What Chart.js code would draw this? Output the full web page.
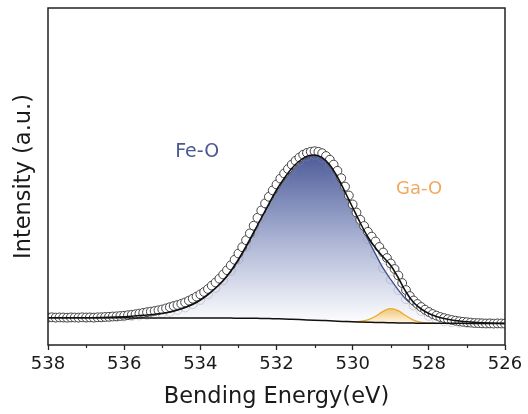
<!DOCTYPE html>
<html>
<head>
<meta charset="utf-8">
<title>O 1s spectrum</title>
<script src="https://cdn.jsdelivr.net/npm/chart.js@4.4.1/dist/chart.umd.min.js"></script>
<style>
  html, body { margin: 0; padding: 0; background: #fff; }
  canvas { display: block; }
</style>
</head>
<body>
<canvas id="myChart" width="528" height="414"></canvas>
<script>
// measured points (open circles), binding energy in eV
const dataEnergy = [
  538.0, 537.9, 537.8, 537.7, 537.6, 537.5, 537.4, 537.3, 537.2, 537.1,
  537.0, 536.9, 536.8, 536.7, 536.6, 536.5, 536.4, 536.3, 536.2, 536.1,
  536.0, 535.9, 535.8, 535.7, 535.6, 535.5, 535.4, 535.3, 535.2, 535.1,
  535.0, 534.9, 534.8, 534.7, 534.6, 534.5, 534.4, 534.3, 534.2, 534.1,
  534.0, 533.9, 533.8, 533.7, 533.6, 533.5, 533.4, 533.3, 533.2, 533.1,
  533.0, 532.9, 532.8, 532.7, 532.6, 532.5, 532.4, 532.3, 532.2, 532.1,
  532.0, 531.9, 531.8, 531.7, 531.6, 531.5, 531.4, 531.3, 531.2, 531.1,
  531.0, 530.9, 530.8, 530.7, 530.6, 530.5, 530.4, 530.3, 530.2, 530.1,
  530.0, 529.9, 529.8, 529.7, 529.6, 529.5, 529.4, 529.3, 529.2, 529.1,
  529.0, 528.9, 528.8, 528.7, 528.6, 528.5, 528.4, 528.3, 528.2, 528.1,
  528.0, 527.9, 527.8, 527.7, 527.6, 527.5, 527.4, 527.3, 527.2, 527.1,
  527.0, 526.9, 526.8, 526.7, 526.6, 526.5, 526.4, 526.3, 526.2, 526.1,
  526.0
];
const dataIntensity = [
  27.5, 27.7, 27.4, 27.6, 27.5, 27.3, 27.6, 27.5, 27.4, 27.7,
  27.5, 27.6, 27.4, 27.7, 27.8, 28.0, 28.2, 28.5, 28.7, 29.0,
  29.3, 29.8, 30.2, 30.8, 31.4, 32.1, 32.8, 33.4, 34.0, 34.7,
  35.5, 36.6, 37.8, 39.0, 40.0, 41.2, 42.6, 44.4, 46.3, 48.4,
  50.6, 53.0, 56.0, 59.4, 62.5, 66.3, 70.5, 74.8, 79.7, 85.2,
  91.5, 97.8, 104.8, 111.6, 119.3, 127.2, 134.5, 141.6, 148.2, 154.6,
  160.5, 166.4, 171.5, 176.0, 180.4, 184.2, 187.5, 190.3, 192.1, 193.3,
  193.8, 193.2, 191.8, 189.0, 185.3, 180.4, 174.2, 166.8, 158.4, 149.5,
  140.6, 132.5, 125.2, 119.0, 113.2, 108.4, 103.5, 98.0, 92.5, 87.0,
  81.5, 76.0, 69.5, 62.0, 55.0, 49.0, 44.5, 41.0, 38.0, 35.3,
  33.0, 31.0, 29.4, 28.0, 26.9, 25.9, 25.0, 24.3, 23.7, 23.2,
  22.8, 22.4, 22.0, 21.9, 21.7, 21.5, 21.6, 21.4, 21.6, 21.5,
  21.4
];

// fitted curves, sampled every 0.2 eV
const fitEnergy = [
  538.0, 537.8, 537.6, 537.4, 537.2, 537.0, 536.8, 536.6, 536.4, 536.2,
  536.0, 535.8, 535.6, 535.4, 535.2, 535.0, 534.8, 534.6, 534.4, 534.2,
  534.0, 533.8, 533.6, 533.4, 533.2, 533.0, 532.8, 532.6, 532.4, 532.2,
  532.0, 531.8, 531.6, 531.4, 531.2, 531.0, 530.8, 530.6, 530.4, 530.2,
  530.0, 529.8, 529.6, 529.4, 529.2, 529.0, 528.8, 528.6, 528.4, 528.2,
  528.0, 527.8, 527.6, 527.4, 527.2, 527.0, 526.8, 526.6, 526.4, 526.2,
  526.0
];
const fitEnvelope = [
  27.3, 27.3, 27.3, 27.3, 27.3, 27.3, 27.3, 27.4, 27.6, 27.9,
  28.3, 28.8, 29.4, 30.0, 30.8, 31.8, 33.0, 35.0, 37.5, 40.7,
  45.0, 50.5, 57.0, 64.5, 74.0, 85.5, 98.5, 112.5, 127.0, 141.0,
  155.0, 166.5, 176.5, 184.0, 188.8, 190.0, 187.3, 180.0, 168.0, 153.0,
  137.5, 122.0, 108.0, 97.0, 88.0, 79.5, 67.0, 53.0, 42.5, 36.0,
  31.5, 28.5, 26.5, 25.0, 24.0, 23.2, 22.6, 22.2, 21.9, 21.7,
  21.6
];
const fitFeO = [
  27.3, 27.3, 27.3, 27.3, 27.3, 27.3, 27.3, 27.4, 27.6, 27.9,
  28.3, 28.8, 29.4, 30.0, 30.8, 31.8, 33.0, 35.0, 37.5, 40.7,
  45.0, 50.5, 57.0, 64.5, 74.0, 85.5, 98.5, 112.5, 127.0, 141.0,
  155.0, 166.5, 176.5, 184.0, 188.8, 190.0, 187.3, 180.0, 168.0, 153.0,
  137.4, 121.4, 105.7, 90.9, 76.8, 65.5, 54.9, 45.8, 39.5, 34.0,
  29.0, 25.5, 23.5, 22.6, 22.1, 21.8, 21.7, 21.6, 21.6, 21.6,
  21.6
];
const fitBackground = [
  27.3, 27.3, 27.3, 27.3, 27.3, 27.3, 27.2, 27.2, 27.2, 27.2,
  27.2, 27.1, 27.1, 27.1, 27.1, 27.0, 27.0, 27.0, 27.0, 27.0,
  27.0, 26.9, 26.9, 26.9, 26.9, 26.8, 26.8, 26.7, 26.6, 26.4,
  26.2, 26.0, 25.7, 25.4, 25.1, 24.8, 24.5, 24.2, 23.8, 23.5,
  23.2, 23.0, 22.8, 22.6, 22.5, 22.3, 22.1, 22.0, 21.9, 21.8,
  21.8, 21.7, 21.7, 21.7, 21.7, 21.6, 21.6, 21.6, 21.6, 21.6,
  21.6
];
const gaEnergy = [530.2, 530.0, 529.8, 529.6, 529.4, 529.2, 529.0, 528.8, 528.6, 528.4, 528.2, 528.0, 527.8];
const fitGaO = [23.5, 23.3, 23.6, 25.1, 28.7, 33.7, 36.3, 34.2, 29.2, 24.9, 22.6, 22.0, 21.7];

const peakNames = ['Fe-O', 'Ga-O'];

const xy = (xs, ys) => xs.map((x, i) => ({ x: x, y: ys[i] }));

function blueGradient(context) {
  const chart = context.chart;
  if (!chart.chartArea) return 'rgba(0,0,0,0)';
  const y = chart.scales.y;
  const g = chart.ctx.createLinearGradient(0, y.getPixelForValue(192), 0, y.getPixelForValue(24));
  g.addColorStop(0, 'rgb(74,90,152)');
  g.addColorStop(0.5, 'rgb(168,177,210)');
  g.addColorStop(1, 'rgb(252,252,254)');
  return g;
}

function orangeGradient(context) {
  const chart = context.chart;
  if (!chart.chartArea) return 'rgba(0,0,0,0)';
  const y = chart.scales.y;
  const g = chart.ctx.createLinearGradient(0, y.getPixelForValue(37), 0, y.getPixelForValue(22));
  g.addColorStop(0, 'rgb(240,196,112)');
  g.addColorStop(1, 'rgb(255,246,228)');
  return g;
}

// frame round the plot and the short minor ticks
const framePlugin = {
  id: 'frame',
  afterDraw(chart) {
    const { ctx, chartArea: a, scales: { x } } = chart;
    ctx.save();
    ctx.strokeStyle = '#222';
    ctx.lineWidth = 1.5;
    ctx.strokeRect(a.left, a.top, a.right - a.left, a.bottom - a.top);
    ctx.lineWidth = 1.2;
    for (let v = 527; v <= 537; v += 2) {
      const px = Math.round(x.getPixelForValue(v)) + 0.5;
      ctx.beginPath();
      ctx.moveTo(px, a.bottom);
      ctx.lineTo(px, a.bottom + 3);
      ctx.stroke();
    }
    ctx.restore();
  }
};

const peakLabelPlugin = {
  id: 'peakLabels',
  afterDatasetsDraw(chart) {
    const { ctx, scales: { x, y } } = chart;
    const spots = [
      { e: 534.66, i: 188, color: '#4a5894', size: 19 },
      { e: 528.86, i: 151, color: '#f0a862', size: 18 }
    ];
    ctx.save();
    ctx.textBaseline = 'alphabetic';
    peakNames.forEach((name, k) => {
      ctx.font = spots[k].size + 'px "DejaVu Sans"';
      ctx.fillStyle = spots[k].color;
      ctx.fillText(name, x.getPixelForValue(spots[k].e), y.getPixelForValue(spots[k].i));
    });
    ctx.restore();
  }
};

const graphData = {
  datasets: [
    {
      label: 'Fit',
      data: xy(fitEnergy, fitEnvelope),
      borderColor: '#111',
      borderWidth: 1.6,
      pointRadius: 0,
      cubicInterpolationMode: 'monotone',
      fill: false,
      order: 0
    },
    {
      label: 'Background',
      data: xy(fitEnergy, fitBackground),
      borderColor: '#111',
      borderWidth: 1.5,
      pointRadius: 0,
      cubicInterpolationMode: 'monotone',
      fill: false,
      order: 1
    },
    {
      label: 'Raw',
      data: xy(dataEnergy, dataIntensity),
      showLine: false,
      pointRadius: 4.4,
      pointBorderWidth: 1,
      pointBorderColor: '#444',
      pointBackgroundColor: '#fff',
      order: 2
    },
    {
      label: 'Raw shadow',
      data: xy(fitEnergy, fitFeO),
      showLine: false,
      pointRadius: 4.4,
      pointBorderWidth: 1,
      pointBorderColor: 'rgba(140,140,140,0.35)',
      pointBackgroundColor: 'rgba(0,0,0,0)',
      order: 3
    },
    {
      label: 'Ga-O',
      data: xy(gaEnergy, fitGaO),
      borderColor: '#e8aa2c',
      borderWidth: 1.3,
      pointRadius: 0,
      cubicInterpolationMode: 'monotone',
      backgroundColor: orangeGradient,
      fill: { target: 1 },
      order: 4
    },
    {
      label: 'Fe-O',
      data: xy(fitEnergy, fitFeO),
      borderColor: '#3b4d8c',
      borderWidth: 1.3,
      pointRadius: 0,
      cubicInterpolationMode: 'monotone',
      backgroundColor: blueGradient,
      fill: { target: 1 },
      order: 5
    }
  ]
};

const config = {
  type: 'line',
  data: graphData,
  options: {
    responsive: false,
    animation: false,
    devicePixelRatio: 1,
    layout: { padding: { top: 8, right: 23, left: 0, bottom: 0 } },
    plugins: {
      legend: { display: false },
      tooltip: { enabled: false }
    },
    scales: {
      x: {
        type: 'linear',
        reverse: true,
        min: 526,
        max: 538,
        afterFit: (s) => { s.height = 69; },
        border: { display: false },
        grid: {
          drawOnChartArea: false,
          tickLength: 5,
          tickWidth: 1.3,
          tickColor: (c) => (c.tick && c.tick.value % 2 !== 0 ? 'rgba(0,0,0,0)' : '#222')
        },
        ticks: {
          stepSize: 1,
          autoSkip: false,
          maxRotation: 0,
          padding: 3.5,
          color: '#1a1a1a',
          font: { family: 'DejaVu Sans', size: 18 },
          callback: (v) => (v % 2 === 0 ? String(v) : '')
        },
        title: {
          display: true,
          text: 'Bending Energy(eV)',
          color: '#1a1a1a',
          font: { family: 'DejaVu Sans', size: 22.5 },
          padding: { top: 0, bottom: 3.5 }
        }
      },
      y: {
        min: 0,
        max: 337,
        afterFit: (s) => { s.width = 48; },
        border: { display: false },
        grid: { display: false },
        ticks: { display: false },
        title: {
          display: true,
          text: 'Intensity (a.u.)',
          color: '#1a1a1a',
          font: { family: 'DejaVu Sans', size: 22.5 },
          padding: { top: 11, bottom: 0 }
        }
      }
    }
  },
  plugins: [framePlugin, peakLabelPlugin]
};

new Chart(document.getElementById('myChart'), config);
</script>
</body>
</html>
